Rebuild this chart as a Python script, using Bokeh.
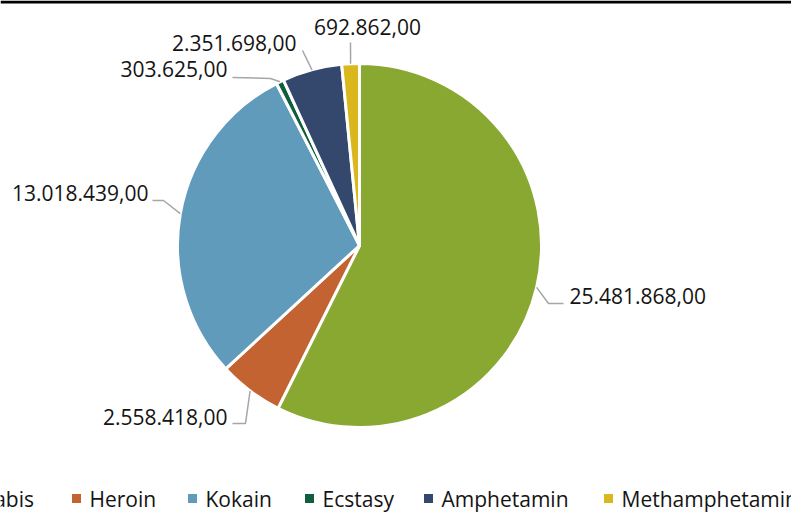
import math
from bokeh.plotting import figure
from bokeh.models import Range1d, ColumnDataSource
from bokeh.core.properties import value
from bokeh.embed import file_html
from bokeh.resources import INLINE

# ---- data ----
categories = ["Cannabis", "Heroin", "Kokain", "Ecstasy", "Amphetamin", "Methamphetamin"]
values = [25481868.00, 2558418.00, 13018439.00, 303625.00, 2351698.00, 692862.00]
colors = ["#89a832", "#c46332", "#609bbc", "#115e3e", "#34486e", "#dbb71e"]

def fmt(v):
    s = f"{v:,.2f}"
    return s.replace(",", "X").replace(".", ",").replace("X", ".")

labels = [fmt(v) for v in values]

# ---- layout (picture pixel coords; y measured downwards from top) ----
W, H = 791, 512
CX, CY, R = 359, 245, 182
FONT = "Open Sans"
FS = "21px"
TXT = "#141414"

def py(y):  # picture y -> data y
    return H - y

# label anchor (text position) and leader knee/end points, per slice
label_pos = [(569, 295, "left"), (227, 416, "right"), (148, 192, "right"),
             (227, 68, "right"), (296, 42, "right"), (367, 26, "center")]
leader_pts = [[(548, 303), (563, 303)], [(245, 423), (232, 423)], [(163, 200), (152, 200)],
              [(270, 78), (232, 77)], [(302, 50)], [(350, 42)]]
legend_x = [-70, 76, 192, 309, 428, 608]
legend_y = 498

p = figure(width=W, height=H, output_backend="svg", toolbar_location=None,
           x_range=Range1d(0, W), y_range=Range1d(0, H), min_border=0)
p.axis.visible = False
p.grid.visible = False
p.outline_line_color = None
p.background_fill_color = "white"
p.border_fill_color = "white"

# top black rule
p.quad(left=0, right=W, bottom=py(3), top=py(0), fill_color="black", line_color=None)

total = sum(values)
starts, ends, mids = [], [], []
cum = 0.0
for v in values:
    a0 = cum / total * 2 * math.pi
    cum += v
    a1 = cum / total * 2 * math.pi
    starts.append(math.pi / 2 - a0)
    ends.append(math.pi / 2 - a1)
    mids.append((a0 + a1) / 2)

src = ColumnDataSource(dict(start=starts, end=ends, color=colors))
p.wedge(x=CX, y=py(CY), radius=R, start_angle="start", end_angle="end",
        direction="clock", fill_color="color", line_color="white", line_width=3,
        source=src)

# leader lines
for i, m in enumerate(mids):
    ex = CX + R * math.sin(m)
    ey = CY - R * math.cos(m)
    xs = [ex] + [q[0] for q in leader_pts[i]]
    ys = [py(ey)] + [py(q[1]) for q in leader_pts[i]]
    p.line(xs, ys, line_color="#a6a6a6", line_width=1.5)

# data labels
for i, (lx, ly, al) in enumerate(label_pos):
    p.text(x=[lx], y=[py(ly)], text=[labels[i]], text_align=al, text_baseline="middle",
           text_font=value(FONT), text_font_size=FS, text_color=TXT)

# legend
p.scatter(x=legend_x, y=[py(legend_y)] * len(legend_x), marker="square", size=9,
          fill_color=colors, line_color=None)
p.text(x=[x + 13 for x in legend_x], y=[py(legend_y)] * len(legend_x), text=categories,
       text_align="left", text_baseline="middle", text_font=value(FONT),
       text_font_size=FS, text_color=TXT)

open("out.html", "w").write(file_html(p, INLINE))
